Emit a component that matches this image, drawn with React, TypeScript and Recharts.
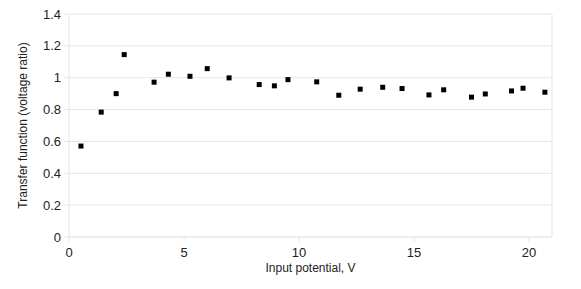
import React from "react";
import {
  CartesianGrid,
  Label,
  ReferenceLine,
  Scatter,
  ScatterChart,
  XAxis,
  YAxis,
} from "recharts";

const inputPotential = [
  0.52, 1.4, 2.05, 2.4, 3.7, 4.32, 5.26, 6.01, 6.96, 8.27, 8.93, 9.52, 10.77,
  11.73, 12.66, 13.64, 14.48, 15.65, 16.29, 17.5, 18.1, 19.24, 19.74, 20.69,
];
const transferRatio = [
  0.571, 0.784, 0.9, 1.145, 0.972, 1.022, 1.009, 1.057, 0.999, 0.957, 0.949,
  0.988, 0.974, 0.89, 0.928, 0.94, 0.932, 0.892, 0.924, 0.878, 0.898, 0.917,
  0.934, 0.909,
];
const xTicks = [0, 5, 10, 15, 20];
const yTicks = [0, 0.2, 0.4, 0.6, 0.8, 1, 1.2, 1.4];

const points = inputPotential.map((x, i) => ({ x, y: transferRatio[i] }));

const gridColor = "#e6e6e6";
const textColor = "#222";
const font = "'Liberation Sans', Arial, sans-serif";

interface ShapeProps {
  cx?: number;
  cy?: number;
}

const SquareDot = ({ cx, cy }: ShapeProps) => {
  if (cx == null || cy == null) return null;
  return <rect x={cx - 2.5} y={cy - 2.5} width={5} height={5} fill="#000" />;
};

export default function App() {
  return (
    <div
      style={{
        position: "absolute",
        left: 0,
        top: 0,
        width: 581,
        height: 289,
        background: "#fff",
        fontFamily: font,
      }}
    >
      <ScatterChart
        width={581}
        height={289}
        margin={{ top: 14, right: 29, bottom: 0, left: 0 }}
      >
        <CartesianGrid stroke={gridColor} vertical={false} />
        <XAxis
          type="number"
          dataKey="x"
          domain={[0, 21]}
          ticks={xTicks}
          height={52}
          stroke={gridColor}
          tickSize={5}
          tickMargin={6}
          tick={{ fill: textColor, fontSize: 13, fontFamily: font }}
        >
          <Label
            value="Input potential, V"
            position="insideBottom"
            offset={17}
            fill={textColor}
            fontSize={12}
            fontFamily={font}
          />
        </XAxis>
        <YAxis
          type="number"
          dataKey="y"
          domain={[0, 1.4]}
          ticks={yTicks}
          width={69}
          stroke={gridColor}
          tickSize={5}
          tickMargin={3}
          tick={{ fill: textColor, fontSize: 13, fontFamily: font }}
        >
          <Label
            value="Transfer function (voltage ratio)"
            angle={-90}
            position="insideLeft"
            offset={23}
            style={{ textAnchor: "middle" }}
            fill={textColor}
            fontSize={12}
            fontFamily={font}
          />
        </YAxis>
        <ReferenceLine x={21} stroke={gridColor} />
        <Scatter
          data={points}
          shape={<SquareDot />}
          isAnimationActive={false}
        />
      </ScatterChart>
    </div>
  );
}
